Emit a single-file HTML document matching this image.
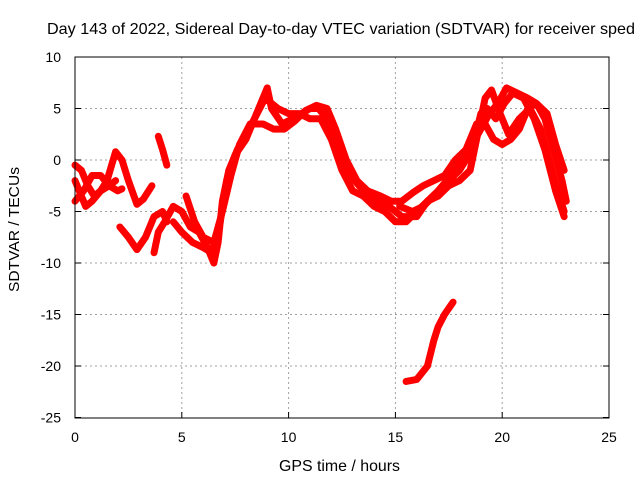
<!DOCTYPE html>
<html><head><meta charset="utf-8"><style>
body{margin:0;background:#fff;}
svg{display:block;font-family:"Liberation Sans",sans-serif;}
</style></head><body>
<svg id="chart" width="640" height="480" xmlns="http://www.w3.org/2000/svg">
<rect width="640" height="480" fill="#fff"/>
<text x="47" y="34" font-size="16" textLength="588" lengthAdjust="spacingAndGlyphs" fill="#000">Day 143 of 2022, Sidereal Day-to-day VTEC variation (SDTVAR) for receiver sped</text>
<g id="grid"></g>
<g id="series"></g>
<rect x="75" y="57" width="534" height="361" fill="none" stroke="#000" stroke-width="1"/>
<g id="ticks"></g>
<text x="279" y="471" font-size="16" textLength="121" lengthAdjust="spacingAndGlyphs">GPS time / hours</text>
<text transform="translate(19,292) rotate(-90)" font-size="14.5" textLength="125" lengthAdjust="spacingAndGlyphs">SDTVAR / TECUs</text>
</svg>
<script>
const xTicks=[0,5,10,15,20,25];
const yTicks=[10,5,0,-5,-10,-15,-20,-25];
const s1=[[0,-0.5],[0.3,-1],[0.6,-2.5],[0.9,-3.5],[1.2,-3],[1.5,-2],[1.9,0.8],[2.2,0],[2.5,-2],[2.9,-4.3],[3.2,-3.8],[3.6,-2.5]];
const s2=[[0,-2],[0.3,-3.5],[0.5,-4.5],[0.8,-4],[1.2,-3],[1.6,-2.5],[2.0,-3],[2.2,-2.8]];
const s3=[[0,-4],[0.4,-3],[0.8,-1.5],[1.2,-1.5],[1.6,-2.5],[1.9,-2]];
const s4=[[2.1,-6.5],[2.5,-7.5],[2.9,-8.7],[3.3,-7.5],[3.7,-5.5],[4.1,-5],[4.3,-6]];
const s5=[[3.9,2.3],[4.1,1],[4.3,-0.5]];
const s6=[[3.7,-9],[3.9,-7],[4.2,-6],[4.6,-4.5],[5.0,-5],[5.4,-6.5],[5.8,-7],[6.2,-8.5],[6.5,-10],[6.7,-8],[6.9,-4],[7.2,-1],[7.6,1],[8.0,2.5],[8.4,4],[8.9,6],[9.5,5],[10,4.5],[10.5,4.5],[11.0,4],[11.5,4],[12,2],[12.5,-1],[13,-3],[13.5,-3.5],[14,-4.5],[14.5,-5],[15,-6],[15.5,-6],[16,-5],[16.5,-4],[17,-3],[17.5,-2],[18,-1],[18.3,0],[18.7,2],[19.0,4.5],[19.3,5],[19.7,4],[20.1,5.5],[20.5,6.5],[21,6],[21.5,4],[22,1],[22.5,-3],[22.9,-5.5]];
const s7=[[4.6,-6],[5,-7],[5.5,-8],[6,-8.5],[6.4,-9],[6.8,-6],[7.1,-2],[7.5,0.5],[8,2],[8.5,4.5],[9,7],[9.2,5],[9.7,3.5],[10.2,4],[10.6,4.5],[11,5],[11.4,5],[11.8,4],[12.3,1],[12.7,-1],[13.3,-2.5],[13.8,-3.5],[14.2,-4],[14.7,-4.5],[15.3,-5.5],[16,-5.5],[16.5,-4],[17,-3.5],[17.5,-2.5],[18,-2],[18.5,-1],[18.8,2],[19.2,6],[19.5,6.8],[19.9,4.5],[20.3,2.5],[20.8,4],[21.3,5],[21.8,3],[22.2,0],[22.6,-3],[22.9,-5]];
const s8=[[5.2,-3.5],[5.6,-6],[6,-7.5],[6.5,-8],[6.9,-5],[7.3,-1.5],[7.7,1.5],[8.2,3.5],[8.8,3.5],[9.3,3],[9.8,3],[10.3,3.8],[10.8,4.8],[11.3,5.3],[11.8,5],[12.2,3],[12.7,0],[13.2,-2],[13.7,-3],[14.3,-3.5],[14.8,-4],[15.3,-4],[15.8,-3.2],[16.3,-2.5],[16.8,-2],[17.3,-1.5],[17.8,0],[18.3,1],[18.8,3.5],[19.2,3.5],[19.6,2],[20,1.5],[20.4,2],[20.8,3],[21.2,5],[21.6,5.5],[22,4],[22.4,1],[22.8,-2],[23,-4]];
const s9=[[15.2,-4.5],[15.8,-5],[16.3,-4.5],[16.8,-3.5],[17.2,-2.5],[17.6,-1.5],[18.1,0.5],[18.6,1.5],[19,3],[19.4,4.5],[19.8,5.5],[20.2,7],[20.7,6.5],[21.2,6],[21.6,5.5],[22.1,4.5],[22.5,1.5],[22.9,-1]];
const s10=[[15.5,-21.5],[16,-21.3],[16.5,-20],[16.8,-17.5],[17,-16.2],[17.3,-15],[17.7,-13.8]];
const allSeries=[s1,s2,s3,s4,s5,s6,s7,s8,s9,s10];
const X=v=>75+v*(534/25);
const Y=v=>160-v*10.3;
const NS='http://www.w3.org/2000/svg';
const grid=document.getElementById('grid'),ticks=document.getElementById('ticks'),ser=document.getElementById('series');
function mk(tag,attrs,parent){const e=document.createElementNS(NS,tag);for(const k in attrs)e.setAttribute(k,attrs[k]);parent.appendChild(e);return e;}
xTicks.forEach(t=>{
  if(t>0&&t<25){const g=mk('line',{x1:X(t),x2:X(t),y1:57,y2:418,stroke:'#a0a0a0','stroke-dasharray':'2,3'},grid);
  
  }
  const tk=mk('line',{x1:X(t),x2:X(t),y1:418,y2:412,stroke:'#000'},ticks);
  
  
  const l=mk('text',{x:X(t),y:442,'font-size':14,'text-anchor':'middle'},ticks);l.textContent=t;
  
  
});
yTicks.forEach(t=>{
  if(t<10&&t>-25){const g=mk('line',{x1:75,x2:609,y1:Y(t),y2:Y(t),stroke:'#a0a0a0','stroke-dasharray':'2,3'},grid);
  
  }
  const tk=mk('line',{x1:75,x2:81,y1:Y(t),y2:Y(t),stroke:'#000'},ticks);
  
  
  const tk2=mk('line',{x1:603,x2:609,y1:Y(t),y2:Y(t),stroke:'#000'},ticks);
  
  
  const l=mk('text',{x:61,y:Y(t)+5,'font-size':14,'text-anchor':'end'},ticks);l.textContent=t;
  
  
});
allSeries.forEach((s,i)=>{
  const p=mk('polyline',{points:s.map(d=>X(d[0])+','+Y(d[1])).join(' '),fill:'none',stroke:'#ff0000','stroke-width':7,'stroke-linejoin':'round','stroke-linecap':'round'},ser);
  
  
});
</script>
</body></html>
